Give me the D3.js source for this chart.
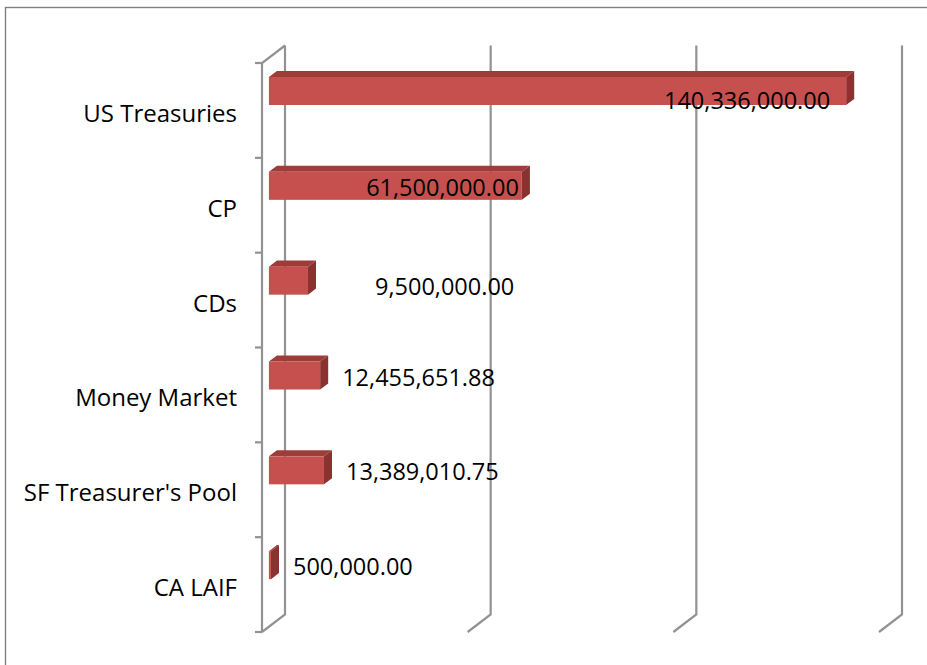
<!DOCTYPE html>
<html>
<head>
<meta charset="utf-8">
<script src="https://cdn.jsdelivr.net/npm/d3@7"></script>
<style>
  body { margin: 0; background: #fff; }
  svg { display: block; font-family: "Open Sans", "Noto Sans", sans-serif; }
</style>
</head>
<body>
<div id="chart"></div>
<script>
// Chart data
const categories = ["US Treasuries", "CP", "CDs", "Money Market", "SF Treasurer's Pool", "CA LAIF"];
const amounts = [140336000.00, 61500000.00, 9500000.00, 12455651.88, 13389010.75, 500000.00];
const gridTicks = [0, 50000000, 100000000, 150000000];

const width = 927, height = 665;

// 3D box: front plane origin and the depth shift to the back wall
const plot = { left: 262, top: 63, bottom: 632, width: 617 };
const depth = { dx: 23, dy: -17.5 };
const barFront = 0.3, barBack = 0.65; // depth fractions of the bar faces

const svg = d3.select("#chart")
    .append("svg")
    .attr("width", width)
    .attr("height", height);

// Outer chart border (only top and left fall inside the picture)
svg.append("rect")
    .attr("x", 5.5)
    .attr("y", 7.5)
    .attr("width", 1000)
    .attr("height", 1000)
    .attr("fill", "none")
    .attr("stroke", "#808080")
    .attr("stroke-width", 1.4);

const xScale = d3.scaleLinear()
    .domain([0, 150000000])
    .range([0, plot.width]);

const yScale = d3.scaleBand()
    .domain(categories)
    .range([plot.top, plot.bottom])
    .paddingInner(0)
    .paddingOuter(0);

// map a value / front-plane y to screen at a depth fraction
const px = (v, f) => plot.left + xScale(v) + depth.dx * f;
const py = (y, f) => y + depth.dy * f;

const grid = svg.append("g")
    .attr("fill", "none")
    .attr("stroke", "#929292")
    .attr("stroke-width", 2.2);

// Back wall gridlines and their floor diagonals
gridTicks.forEach(t => {
    grid.append("path")
        .attr("d", `M${px(t, 1)},${py(plot.top, 1)} L${px(t, 1)},${py(plot.bottom, 1)} L${px(t, 0)},${py(plot.bottom, 0)}`);
});

// Left wall: front edge and top diagonal
grid.append("path")
    .attr("d", `M${px(0, 1)},${py(plot.top, 1)} L${px(0, 0)},${py(plot.top, 0)} L${px(0, 0)},${py(plot.bottom, 0)}`);

// Category tick marks at band boundaries
const boundaries = categories.map(c => yScale(c)).concat([plot.bottom]);
grid.selectAll(".cat-tick")
    .data(boundaries)
    .enter()
    .append("line")
    .attr("class", "cat-tick")
    .attr("x1", plot.left - 7)
    .attr("x2", plot.left)
    .attr("y1", d => d)
    .attr("y2", d => d);

// Category labels
svg.append("g")
    .selectAll("text")
    .data(categories)
    .enter()
    .append("text")
    .attr("x", 237)
    .attr("y", d => yScale(d) + yScale.bandwidth() / 2 + 2)
    .attr("text-anchor", "end")
    .attr("dominant-baseline", "central")
    .style("font-size", "24px")
    .attr("fill", "#000")
    .text(d => d);

// Bars drawn as three faces
const barOffset = 19.25, barHeight = 28;
const rows = categories.map((c, i) => ({ cat: c, value: amounts[i] }));

const bars = svg.append("g")
    .selectAll("g")
    .data(rows)
    .enter()
    .append("g");

const pts = arr => arr.map(p => p.join(",")).join(" ");

// top face
bars.append("polygon")
    .attr("fill", "#9e3c3a")
    .attr("points", d => {
        const y0 = yScale(d.cat) + barOffset;
        return pts([
            [px(0, barFront), py(y0, barFront)],
            [px(d.value, barFront), py(y0, barFront)],
            [px(d.value, barBack), py(y0, barBack)],
            [px(0, barBack), py(y0, barBack)]
        ]);
    });

// side face
bars.append("polygon")
    .attr("fill", "#8a3230")
    .attr("points", d => {
        const y0 = yScale(d.cat) + barOffset, y1 = y0 + barHeight;
        return pts([
            [px(d.value, barFront), py(y0, barFront)],
            [px(d.value, barBack), py(y0, barBack)],
            [px(d.value, barBack), py(y1, barBack)],
            [px(d.value, barFront), py(y1, barFront)]
        ]);
    });

// front face
bars.append("rect")
    .attr("fill", "#c6504d")
    .attr("x", px(0, barFront))
    .attr("y", d => py(yScale(d.cat) + barOffset, barFront))
    .attr("width", d => xScale(d.value))
    .attr("height", barHeight);

// Data labels: inside end for long bars, outside for short ones
const fmt = d3.format(",.2f");
const labelNudge = { "US Treasuries": [-16, 8], "CP": [-3, 0], "CDs": [45, 4] };

bars.append("text")
    .style("font-size", "23.5px")
    .attr("fill", "#000")
    .attr("dominant-baseline", "central")
    .attr("text-anchor", d => xScale(d.value) > 100 ? "end" : "start")
    .attr("x", d => {
        const n = labelNudge[d.cat] || [0, 0];
        if (xScale(d.value) > 100) return px(d.value, barFront) + n[0];
        return px(d.value, barBack) + 14 + n[0];
    })
    .attr("y", d => {
        const n = labelNudge[d.cat] || [0, 0];
        return py(yScale(d.cat) + barOffset, barFront) + barHeight / 2 + 1 + n[1];
    })
    .text(d => fmt(d.value));
</script>
</body>
</html>
